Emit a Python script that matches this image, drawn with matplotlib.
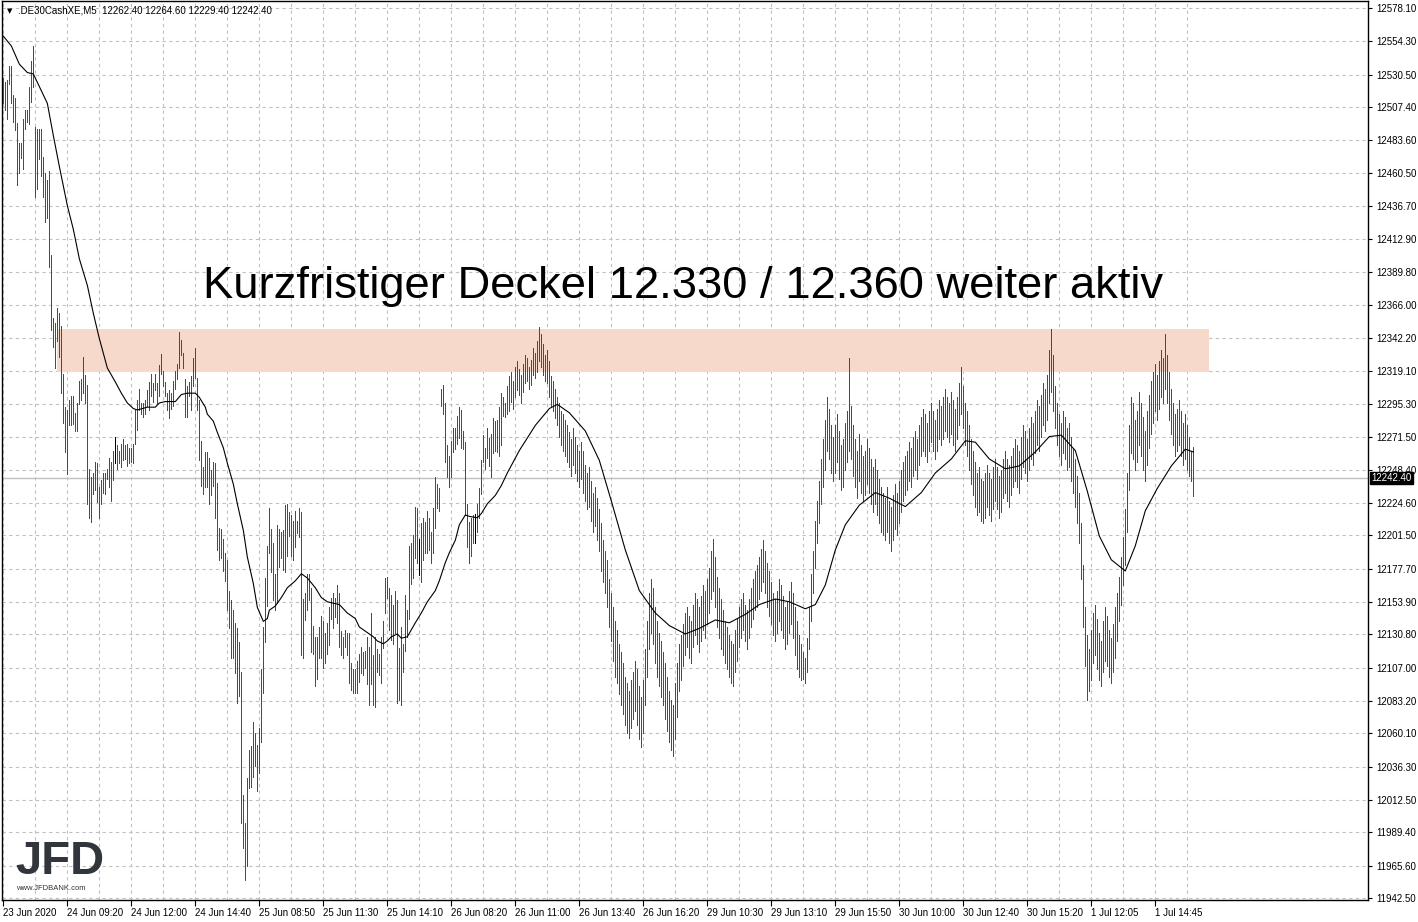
import numpy as np
import matplotlib.pyplot as plt

plt.rcParams['font.family'] = ['Liberation Sans', 'DejaVu Sans']

# chart header
symbol = ".DE30CashXE,M5"
last_ohlc = ["12262.40", "12264.60", "12229.40", "12242.40"]
last_close = 12242.40

# M5 bars (high, low, direction g=up r=down k=doji)
highs = [
    12528, 12525, 12527, 12537, 12537, 12516, 12514, 12496, 12482, 12482,
    12499, 12505, 12505, 12522, 12540, 12551, 12493, 12492, 12492, 12492,
    12472, 12460, 12455, 12462, 12402, 12357, 12353, 12364, 12360, 12351,
    12317, 12293, 12291, 12298, 12301, 12301, 12289, 12296, 12312, 12313,
    12329, 12316, 12309, 12249, 12243, 12246, 12254, 12253, 12236,
    12241, 12246, 12246, 12249, 12257, 12254, 12262, 12272, 12266, 12262, 12267,
    12270, 12266, 12267, 12264, 12264, 12267, 12291, 12298, 12306, 12296,
    12296, 12298, 12305, 12311, 12317, 12310, 12317, 12310, 12323, 12331,
    12319, 12311, 12303, 12305, 12303, 12312, 12319, 12324, 12347, 12341,
    12332, 12313, 12308, 12311, 12315, 12328, 12335, 12314, 12298, 12269, 12250,
    12261, 12261, 12257, 12248, 12254, 12253, 12239, 12207, 12206,
    12199, 12189, 12184, 12162, 12155, 12148, 12139, 12135, 12125, 12104,
    12016, 11996, 12028, 12048, 12051, 12068, 12060, 12052, 12064, 12106,
    12136, 12171, 12194, 12221, 12206, 12196, 12174, 12209, 12206, 12204,
    12205, 12223, 12224, 12218, 12216, 12212, 12219, 12212, 12221, 12218,
    12156, 12160, 12174, 12174, 12164, 12137, 12129, 12129, 12136, 12144,
    12140, 12132, 12139, 12150, 12157, 12160, 12157, 12166, 12160, 12133,
    12129, 12134, 12132, 12132, 12110, 12106, 12106, 12112, 12117, 12122,
    12118, 12119, 12129, 12122, 12146, 12116, 12129, 12120, 12117, 12129,
    12140, 12171, 12172, 12164, 12159, 12152, 12162, 12155, 12121, 12136,
    12124, 12159, 12148, 12194, 12196, 12202, 12222, 12221, 12199, 12210,
    12214, 12211, 12219, 12214, 12204, 12221, 12243, 12238, 12235, 12306,
    12309, 12296, 12266, 12258, 12269, 12278, 12278, 12287, 12293, 12291,
    12276, 12268, 12224, 12211, 12214, 12216, 12217, 12224, 12235, 12255,
    12273, 12264, 12278, 12271, 12274, 12285, 12283, 12284, 12293, 12303,
    12300, 12296, 12308,
    12315, 12318, 12312, 12322, 12326, 12320, 12316, 12324, 12330, 12328,
    12322, 12327, 12335, 12332, 12340, 12350, 12345,
    12338, 12330, 12334, 12326, 12315, 12312, 12306, 12300, 12296, 12290,
    12288, 12284, 12280, 12275, 12270, 12278, 12272, 12266, 12262, 12268,
    12262, 12252, 12246, 12250, 12240, 12232, 12236, 12228,
    12220, 12210, 12198, 12190, 12184, 12170, 12160, 12150, 12140, 12134,
    12124, 12118, 12110, 12100, 12096, 12090, 12098,
    12104, 12112, 12106, 12094, 12086, 12098, 12120, 12140, 12160, 12170,
    12164, 12150, 12140, 12132, 12126,
    12118, 12110, 12100, 12090, 12084, 12080, 12096, 12110, 12124, 12130,
    12138, 12146, 12150, 12144, 12140, 12152, 12160, 12156, 12150, 12158,
    12166, 12162, 12170, 12178, 12190, 12199, 12186, 12172, 12164, 12156,
    12148, 12140, 12136, 12130, 12126, 12124, 12134, 12142, 12150, 12156,
    12160, 12152, 12148, 12156, 12164, 12170, 12176, 12180,
    12186, 12192, 12198, 12190, 12182, 12176, 12168, 12160, 12156, 12162,
    12170, 12166, 12158, 12150, 12154, 12162, 12168, 12160, 12150, 12140,
    12130, 12124, 12118, 12114, 12128,
    12150, 12174, 12190, 12212, 12226, 12240, 12256, 12270, 12284, 12300,
    12292, 12280,
    12272, 12280, 12288, 12276, 12266, 12270, 12282, 12290, 12328, 12294,
    12280, 12270, 12262, 12274, 12266, 12258, 12262, 12270, 12264, 12256,
    12250, 12256, 12248, 12242, 12236,
    12232, 12228, 12236, 12226, 12222, 12230, 12238, 12232, 12240, 12248,
    12254, 12258, 12262, 12268, 12264, 12272, 12276, 12270, 12280, 12286,
    12292, 12288, 12282, 12290, 12296, 12290, 12284, 12292, 12298, 12294,
    12300, 12306, 12300, 12296, 12304, 12298, 12292, 12300, 12310, 12322,
    12308, 12296, 12290, 12280, 12270, 12262, 12254, 12246, 12250, 12242,
    12240, 12246,
    12252, 12246, 12242, 12250, 12256, 12250, 12244, 12248, 12256, 12262,
    12256, 12252, 12258,
    12264, 12270, 12266, 12262, 12272, 12280, 12276, 12270, 12278, 12286,
    12282, 12290, 12298, 12294, 12302, 12310, 12306,
    12316, 12334, 12349, 12330, 12308,
    12296, 12288, 12282, 12290, 12286, 12278, 12282, 12272, 12264, 12256,
    12244,
    12232, 12210, 12180, 12150, 12130, 12120, 12134,
    12146, 12152, 12142, 12132, 12126, 12140, 12150, 12144, 12134, 12128,
    12138, 12150,
    12160, 12172, 12186, 12200, 12220, 12246,
    12280, 12300, 12296, 12284, 12290, 12304, 12296, 12286, 12276, 12290,
    12302, 12312,
    12318, 12324, 12316, 12326, 12334, 12328, 12345, 12330, 12318, 12306,
    12296, 12288, 12292, 12298, 12290, 12282, 12288, 12280, 12272, 12262,
    12264.6,
]
lows = [
    12510, 12505, 12499, 12524, 12510, 12497, 12491, 12452, 12460, 12471,
    12463, 12492, 12497, 12495, 12511, 12522, 12443, 12449, 12470, 12458,
    12443, 12425, 12428, 12393, 12348, 12336, 12321, 12340, 12329, 12303,
    12282, 12261, 12245, 12280, 12280, 12281, 12276, 12276, 12295, 12298,
    12303, 12296, 12224, 12214, 12211, 12231, 12234, 12225, 12214,
    12224, 12232, 12231, 12242, 12236, 12226, 12241, 12253, 12249, 12253, 12250,
    12255, 12256, 12251, 12253, 12254, 12253, 12267, 12277, 12291, 12288,
    12286, 12288, 12294, 12291, 12301, 12297, 12305, 12296, 12301, 12317,
    12308, 12301, 12291, 12285, 12292, 12294, 12306, 12313, 12321, 12330,
    12321, 12286, 12286, 12301, 12291, 12308, 12314, 12291, 12255, 12237, 12231,
    12236, 12236, 12224, 12230, 12237, 12214, 12191, 12184, 12185,
    12176, 12169, 12148, 12135, 12114, 12114, 12103, 12082, 12087, 11996,
    11978, 11955, 11965, 12021, 12022, 12029, 12037, 12019, 12032, 12054,
    12089, 12125, 12151, 12189, 12175, 12155, 12148, 12153, 12179, 12185,
    12177, 12175, 12187, 12201, 12187, 12184, 12193, 12203, 12200, 12116,
    12114, 12141, 12148, 12155, 12118, 12117, 12094, 12099, 12114, 12114,
    12107, 12110, 12117, 12123, 12142, 12135, 12143, 12139, 12122, 12116,
    12114, 12122, 12116, 12096, 12091, 12089, 12089, 12089, 12097, 12103,
    12102, 12107, 12095, 12080, 12095, 12080, 12079, 12104, 12102, 12096,
    12121, 12146, 12157, 12134, 12127, 12124, 12132, 12082, 12084, 12080,
    12104, 12119, 12129, 12142, 12167, 12171, 12185, 12182, 12173, 12168,
    12184, 12189, 12189, 12191, 12182, 12189, 12207, 12221, 12219, 12294,
    12288, 12254, 12243, 12236, 12243, 12261, 12263, 12267, 12271, 12264,
    12263, 12216, 12193, 12182, 12187, 12196, 12196, 12204, 12214, 12231,
    12254, 12249, 12257, 12251, 12243, 12260, 12262, 12261, 12258, 12266,
    12287, 12286, 12288,
    12290, 12297, 12292, 12300, 12305, 12302, 12296, 12304, 12310, 12312,
    12306, 12309, 12316, 12314, 12318, 12326, 12322,
    12316, 12312, 12310, 12300, 12294, 12290, 12285, 12280, 12272, 12266,
    12262, 12258, 12254, 12250, 12244, 12252, 12246, 12240, 12236, 12242,
    12232, 12226, 12220, 12222, 12212, 12204, 12208, 12198,
    12190, 12176, 12168, 12160, 12150, 12136, 12126, 12112, 12100, 12096,
    12088, 12080, 12074, 12066, 12060, 12057, 12064,
    12070, 12076, 12066, 12056, 12050, 12060, 12080, 12100, 12120, 12132,
    12124, 12110, 12100, 12094, 12086,
    12080, 12070, 12062, 12054, 12048, 12044, 12056, 12072, 12090, 12098,
    12108, 12116, 12122, 12114, 12110, 12122, 12130, 12124, 12118, 12126,
    12134, 12128, 12138, 12146, 12156, 12162, 12150, 12136, 12128, 12120,
    12116, 12110, 12106, 12100, 12096, 12094, 12104, 12112, 12122, 12128,
    12134, 12126, 12120, 12128, 12136, 12142, 12148, 12150,
    12156, 12162, 12168, 12160, 12150, 12144, 12138, 12130, 12126, 12132,
    12140, 12134, 12128, 12120, 12124, 12132, 12138, 12128, 12116, 12106,
    12100, 12098, 12099, 12096, 12104,
    12120, 12140, 12160, 12178, 12196, 12210, 12224, 12236, 12248, 12262,
    12256, 12246,
    12240, 12246, 12254, 12242, 12234, 12236, 12248, 12254, 12262, 12256,
    12244, 12236, 12228, 12240, 12232, 12226, 12230, 12238, 12232, 12224,
    12218, 12224, 12216, 12210, 12204,
    12202, 12198, 12204, 12196, 12190, 12198, 12206, 12202, 12210, 12218,
    12226, 12230, 12234, 12240, 12236, 12244, 12248, 12242, 12252, 12258,
    12262, 12258, 12254, 12262, 12268, 12262, 12256, 12262, 12270, 12266,
    12270, 12276, 12272, 12268, 12274, 12266, 12262, 12270, 12280, 12288,
    12278, 12266, 12258, 12248, 12238, 12230, 12222, 12216, 12218, 12212,
    12210, 12214,
    12222, 12216, 12212, 12220, 12226, 12220, 12214, 12218, 12228, 12232,
    12226, 12222, 12230,
    12236, 12240, 12236, 12232, 12242, 12250, 12246, 12240, 12248, 12256,
    12252, 12260, 12266, 12262, 12272, 12280, 12276,
    12284, 12296, 12304, 12290, 12278,
    12266, 12258, 12252, 12260, 12256, 12248, 12250, 12240, 12232, 12222,
    12210,
    12196, 12170, 12136, 12108, 12084, 12090, 12098,
    12110, 12116, 12106, 12098, 12094, 12104, 12112, 12108, 12100, 12096,
    12104, 12114,
    12126, 12140, 12152, 12166, 12180, 12204,
    12234, 12260, 12256, 12248, 12254, 12266, 12258, 12248, 12240, 12252,
    12264, 12274,
    12282, 12290, 12284, 12292, 12300, 12296, 12306, 12296, 12284, 12274,
    12266, 12258, 12262, 12266, 12258, 12252, 12256, 12248, 12244, 12240,
    12229.4,
]
dirs = ("rrggrgrrgg" "ggrgggrgrr" "rrgrrgrgrr" "rrggggrggg" "grrrgggrr"
        "ggrggrgkggg" "rrrgggggrr" "rrgggrgrgg" "rrrggggggr" "rrrgggrrrrr"
        "ggrggrrgr" "ggrrrrrgrr" "rrgggrgrgg" "ggggrrrgrr" "rgrrrrgrgr"
        "ggggrrrggg" "rgrggrggrr" "grgrrrrggg" "rggrgrgrrg" "gggrrggrrg"
        "rgrgrggrkg" "grgrrggrrg" "rrrrgggggr" "rrrgggkggg" "grgrggrgrg"
        "rgr"
        "ggrggrrggrrggrggr" "grgrrrrrrr" "rrrrrgrrrgrrrgrrgr" "rrrrrrrrrgrrrrrgg"
        "ggrrrgggggrrrrr" "rrrrrggggg" "gggrrggrrggrggggrrrr" "rrrrrggggggrrggggg"
        "gggrrrrrrggrrrgggrrr" "rrrrg" "ggggggggggrr" "rggrrggggrrrrgrrggrrrgrrr"
        "rrgrrggrgg" "ggggrggrgggrrggrrggr" "ggrrgrrggg" "rrrrrrrrgrrg"
        "grrggrrgggrrg" "ggrrggrrggrggrggr" "ggrrr" "rrrgrrgrrrr" "rrrrrgg"
        "ggrrrggrrrgg" "gggggg" "ggrrggrrrggg" "ggrggrgrrr" "rrgggrrrrrr")

# moving average, read at sample bars
ma_bar = [0, 4, 8, 12, 15, 18, 22, 25, 28, 32, 35, 38, 42, 45, 48, 52, 56, 59,
          62, 65, 67, 72, 76, 78, 81, 86, 89, 92, 96, 98, 101, 102, 105, 107,
          110, 112, 115, 117, 120, 122, 125, 127, 130, 132, 133, 136, 139, 142,
          146, 149, 152, 156, 159, 162, 168, 172, 176, 178, 182, 185, 187, 190,
          192, 194, 197, 199, 202, 206, 209, 212, 216, 218, 221, 223, 226, 228,
          231, 233, 237, 239, 242, 246, 249, 252,
          258, 266, 273, 277, 283, 291, 298, 304, 311, 318, 326, 333, 341, 348,
          356, 363, 371, 378, 386, 393, 401, 406, 411, 416, 421, 428, 436, 443,
          451, 459, 466, 474, 481, 486, 493, 501, 508, 516, 523, 529, 536, 542,
          548, 554, 561, 566, 571, 577, 584, 591, 595]
ma_val = [12558, 12551, 12538, 12532, 12531, 12522, 12510, 12487, 12465, 12437,
          12420, 12399, 12380, 12360, 12342, 12321, 12311, 12303, 12296, 12292,
          12291, 12293, 12293, 12296, 12297, 12297, 12302, 12303, 12303, 12300,
          12293, 12288, 12283, 12275, 12264, 12253, 12238, 12224, 12205, 12186,
          12167, 12150, 12140, 12142, 12148, 12151, 12157, 12164, 12169, 12174,
          12171, 12164, 12157, 12154, 12152, 12146, 12142, 12136, 12132, 12129,
          12126, 12124, 12126, 12129, 12131, 12128, 12129, 12139, 12146, 12154,
          12162, 12169, 12182, 12189, 12198, 12209, 12216, 12215, 12214, 12217,
          12224, 12230, 12237, 12246,
          12262, 12280, 12292, 12295, 12289, 12276, 12255, 12226, 12191, 12162,
          12146, 12137, 12131, 12135, 12141, 12139, 12145, 12152, 12156, 12154,
          12149, 12152, 12166, 12191, 12209, 12223, 12232, 12228, 12222, 12232,
          12246, 12256, 12269, 12268, 12256, 12249, 12251, 12261, 12272, 12273,
          12262, 12233, 12201, 12184, 12176, 12194, 12219, 12235, 12251, 12263,
          12261]

# resistance zone
zone_low, zone_high = 12318.4, 12349.1
zone_start, zone_end = 27, 603

y_ticks = [12578.10, 12554.30, 12530.50, 12507.40, 12483.60, 12460.50, 12436.70,
           12412.90, 12389.80, 12366.00, 12342.20, 12319.10, 12295.30, 12271.50,
           12248.40, 12224.60, 12201.50, 12177.70, 12153.90, 12130.80, 12107.00,
           12083.20, 12060.10, 12036.30, 12012.50, 11989.40, 11965.60, 11942.50]
x_labels = ["23 Jun 2020", "24 Jun 09:20", "24 Jun 12:00", "24 Jun 14:40",
            "25 Jun 08:50", "25 Jun 11:30", "25 Jun 14:10", "26 Jun 08:20",
            "26 Jun 11:00", "26 Jun 13:40", "26 Jun 16:20", "29 Jun 10:30",
            "29 Jun 13:10", "29 Jun 15:50", "30 Jun 10:00", "30 Jun 12:40",
            "30 Jun 15:20", "1 Jul 12:05", "1 Jul 14:45"]
bars_per_label = 32

title = "Kurzfristiger Deckel 12.330 / 12.360 weiter aktiv"

W, H = 1418, 922
fig = plt.figure(figsize=(W / 100, H / 100), dpi=100)
ax = fig.add_axes([2 / W, 1 - 900 / H, 1365.5 / W, 899 / H])

x = np.arange(len(highs))
col_map = {'g': '#008000', 'r': '#ff0000', 'k': '#000000'}
colors = [col_map[c] for c in dirs[:len(highs)]]

ax.fill_between([zone_start, zone_end], zone_low, zone_high,
                color='#f6d9ca', lw=0, zorder=1)
ax.axhline(last_close, color='#c0c0c0', lw=1, zorder=1.5)
ax.vlines(x, lows, highs, colors=colors, lw=0.72, antialiased=False, zorder=3)
ax.plot(ma_bar, ma_val, color='black', lw=0.8, zorder=4)

ax.set_xlim(-0.67, 682.1)
ax.set_ylim(11941.0, 12583.1)

# axes / ticks
ax.yaxis.tick_right()
ax.set_yticks(y_ticks)
ax.set_yticklabels([f"{v:.2f}" for v in y_ticks])
xt = [bars_per_label * k for k in range(len(x_labels))]
ax.set_xticks(xt)
ax.set_xticklabels(x_labels)
for lab in ax.get_xticklabels():
    lab.set_horizontalalignment('left')
ax.set_xticks([bars_per_label * k + 16 for k in range(len(x_labels))], minor=True)
ax.tick_params(axis='y', direction='out', length=3, pad=3, labelsize=7, width=0.8)
ax.tick_params(axis='x', which='major', direction='out', length=4, pad=2,
               labelsize=7, width=0.8)
ax.tick_params(axis='x', which='minor', length=0)
ax.grid(True, which='both', color='#c0c0c0', linestyle=(0, (3, 3)), lw=0.8)
ax.set_axisbelow(True)
for s in ax.spines.values():
    s.set_linewidth(1.0)
    s.set_color('black')

# last price box on the axis
ax.text(1.003, last_close, f"{last_close:.2f}", transform=ax.get_yaxis_transform(),
        color='white', fontsize=7, va='center', ha='left',
        bbox=dict(boxstyle='square,pad=0.15', fc='black', ec='black'))

# header
ax.text(0.004, 0.992, "\u25bc", transform=ax.transAxes, fontsize=5, va='top',
        ha='left', family=['DejaVu Sans'])
ax.text(0.012, 0.995, symbol + "  " + " ".join(last_ohlc), transform=ax.transAxes,
        fontsize=7, va='top', ha='left')

ax.text(0.4985, 12379, title, fontsize=32.7, ha='center', va='center',
        transform=ax.get_yaxis_transform(), zorder=5)

# logo
fig.text(15 / W, 1 - 862 / H, "JFD", fontsize=34, fontweight='bold',
         color='#30363b', va='center', ha='left')
fig.text(16 / W, 1 - 888 / H, "www.JFDBANK.com", fontsize=5.5, color='#30363b',
         va='center', ha='left')

fig.savefig("out.png", dpi=100)
